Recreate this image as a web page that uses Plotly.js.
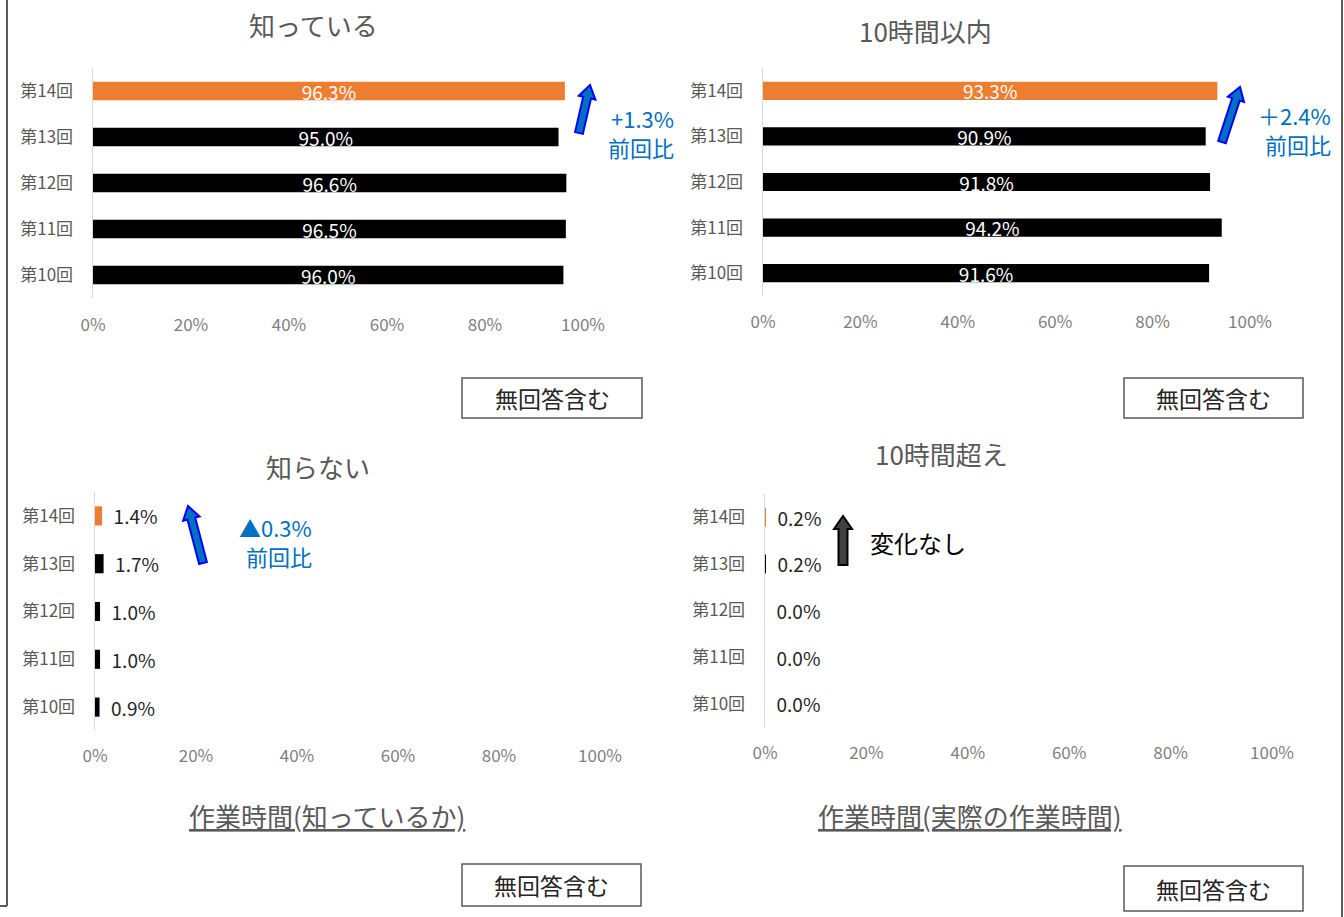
<!DOCTYPE html>
<html>
<head>
<meta charset="utf-8">
<script src="https://cdn.plot.ly/plotly-3.0.1.min.js"></script>
<style>html,body{margin:0;padding:0;background:#fff;}#chart{width:1344px;height:917px;}</style>
</head>
<body>
<div id="chart"></div>
<script>
// ---- data ----
const rounds = ['第10回', '第11回', '第12回', '第13回', '第14回'];
const knowYes = [96.0, 96.5, 96.6, 95.0, 96.3];      // 知っている
const knowNo = [0.9, 1.0, 1.0, 1.7, 1.4];            // 知らない
const within10h = [91.6, 94.2, 91.8, 90.9, 93.3];    // 10時間以内
const over10h = [0.0, 0.0, 0.0, 0.2, 0.2];           // 10時間超え
const panelTitles = ['知っている', '10時間以内', '知らない', '10時間超え'];
const tickValues = [0, 20, 40, 60, 80, 100];
const tickLabels = ['0%', '20%', '40%', '60%', '80%', '100%'];
const changeLabels = ['+1.3%', '＋2.4%', '▲0.3%', '変化なし'];
const compareLabel = '前回比';
const sectionLabels = ['作業時間(知っているか)', '作業時間(実際の作業時間)'];
const noteLabel = '無回答含む';

// ---- style ----
const W = 1344, H = 917;
const FONT = '"Noto Sans CJK JP", "Noto Sans", sans-serif';
const ORANGE = '#ED7D31', BLACK = '#000000', BLUE_TXT = '#0070C0';
const barColors = rounds.map((r, i) => i === rounds.length - 1 ? ORANGE : BLACK);
const px = x => x / W;
const py = y => 1 - y / H;

function xaxisCfg(x0, x1, anchor, tl) {
  return {
    domain: [px(x0), px(x1)], range: [0, 100], anchor: anchor,
    tickmode: 'array', tickvals: tickValues, ticktext: tickLabels, showgrid: false, zeroline: false,
    showline: false, ticks: 'outside', ticklen: tl, tickcolor: 'rgba(0,0,0,0)',
    tickfont: {family: FONT, size: 17, color: '#7f7f7f'}, fixedrange: true
  };
}
function yaxisCfg(y0, y1, anchor) {
  return {
    domain: [py(y1), py(y0)], anchor: anchor, type: 'category',
    categoryorder: 'array', categoryarray: rounds,
    showgrid: false, zeroline: false, showline: true, linecolor: '#d9d9d9', linewidth: 1.5,
    ticks: 'outside', ticklen: 15, tickcolor: 'rgba(0,0,0,0)',
    tickfont: {family: FONT, size: 17, color: '#595959'}, fixedrange: true
  };
}

function insideBar(vals, xa, ya) {
  return {
    type: 'bar', orientation: 'h', x: vals, y: rounds, xaxis: xa, yaxis: ya,
    marker: {color: barColors},
    text: vals.map(v => v.toFixed(1) + '%'), textposition: 'inside',
    insidetextanchor: 'middle', constraintext: 'none',
    textfont: {family: FONT, size: 19, color: '#ffffff'}, hoverinfo: 'skip'
  };
}
function outsideBar(vals, xa, ya) {
  return {
    type: 'bar', orientation: 'h', x: vals, y: rounds, xaxis: xa, yaxis: ya,
    marker: {color: barColors},
    text: vals.map(v => '\u00a0\u00a0' + v.toFixed(1) + '%'), textposition: 'outside',
    constraintext: 'none', cliponaxis: false,
    textfont: {family: FONT, size: 19, color: '#262626'}, hoverinfo: 'skip'
  };
}

const data = [
  insideBar(knowYes, 'x', 'y'),
  insideBar(within10h, 'x2', 'y2'),
  outsideBar(knowNo, 'x3', 'y3'),
  outsideBar(over10h, 'x4', 'y4')
];

// block arrow path (pixel input -> paper coords)
function blockArrow(tx, ty, hx, hy, shaftW, headW, headL) {
  const dx = hx - tx, dy = hy - ty, len = Math.hypot(dx, dy);
  const ux = dx / len, uy = dy / len, nx = -uy, ny = ux;
  const nkx = hx - ux * headL, nky = hy - uy * headL;
  const pts = [
    [tx + nx * shaftW / 2, ty + ny * shaftW / 2],
    [nkx + nx * shaftW / 2, nky + ny * shaftW / 2],
    [nkx + nx * headW / 2, nky + ny * headW / 2],
    [hx, hy],
    [nkx - nx * headW / 2, nky - ny * headW / 2],
    [nkx - nx * shaftW / 2, nky - ny * shaftW / 2],
    [tx - nx * shaftW / 2, ty - ny * shaftW / 2]
  ];
  return 'M' + pts.map(p => px(p[0]).toFixed(5) + ',' + py(p[1]).toFixed(5)).join(' L') + ' Z';
}

const shapes = [
  // page borders
  {type: 'line', xref: 'paper', yref: 'paper', x0: px(7), x1: px(7), y0: py(0), y1: py(906), line: {color: '#595959', width: 2}},
  {type: 'line', xref: 'paper', yref: 'paper', x0: px(0), x1: px(7), y0: py(906), y1: py(906), line: {color: '#595959', width: 2}},
  {type: 'line', xref: 'paper', yref: 'paper', x0: px(1342), x1: px(1342), y0: py(0), y1: py(917), line: {color: '#595959', width: 2}},
  // arrows
  {type: 'path', xref: 'paper', yref: 'paper', path: blockArrow(579, 133, 590, 85, 8, 17, 13), fillcolor: '#0070C0', line: {color: '#0000FF', width: 2}},
  {type: 'path', xref: 'paper', yref: 'paper', path: blockArrow(1222, 142, 1240, 87, 8, 17, 13), fillcolor: '#0070C0', line: {color: '#0000FF', width: 2}},
  {type: 'path', xref: 'paper', yref: 'paper', path: blockArrow(203, 563, 188, 506, 8, 17, 13), fillcolor: '#0070C0', line: {color: '#0000FF', width: 2}},
  {type: 'path', xref: 'paper', yref: 'paper', path: blockArrow(843, 565, 843, 516, 9, 18, 13), fillcolor: '#404040', line: {color: '#000000', width: 2}}
];
// note boxes
const boxes = [[462, 378, 642, 418], [1124, 378, 1303, 418], [462, 864, 641, 906], [1124, 866, 1303, 911]];
boxes.forEach(b => {
  shapes.push({type: 'rect', xref: 'paper', yref: 'paper', x0: px(b[0]), x1: px(b[2]), y0: py(b[3]), y1: py(b[1]),
    line: {color: '#595959', width: 1.5}, fillcolor: 'rgba(0,0,0,0)'});
});

function ann(text, x, y, size, color, xanchor) {
  return {text: text, xref: 'paper', yref: 'paper', x: px(x), y: py(y), xanchor: xanchor || 'center', yanchor: 'middle',
    borderpad: 0, showarrow: false, font: {family: FONT, size: size, color: color}};
}
const annotations = [
  ann(panelTitles[0], 313, 25, 26, '#595959'),
  ann(panelTitles[1], 925, 30, 26, '#595959'),
  ann(panelTitles[2], 318, 466, 26, '#595959'),
  ann(panelTitles[3], 941, 453, 26, '#595959'),
  ann(changeLabels[0], 675, 118, 22, BLUE_TXT, 'right'),
  ann(compareLabel, 675, 147, 22, BLUE_TXT, 'right'),
  ann(changeLabels[1], 1332, 115, 22, BLUE_TXT, 'right'),
  ann(compareLabel, 1332, 144, 22, BLUE_TXT, 'right'),
  ann(changeLabels[2], 313, 527, 22, BLUE_TXT, 'right'),
  ann(compareLabel, 313, 556, 22, BLUE_TXT, 'right'),
  ann(changeLabels[3], 918, 542, 24, '#000000'),
  ann('<u>' + sectionLabels[0] + '</u>', 327, 815, 26, '#595959'),
  ann('<u>' + sectionLabels[1] + '</u>', 970, 815, 26, '#595959')
];
boxes.forEach(b => annotations.push(ann(noteLabel, (b[0] + b[2]) / 2, (b[1] + b[3]) / 2, 23, '#262626')));

const layout = {
  width: W, height: H, margin: {l: 0, r: 0, t: 0, b: 0},
  paper_bgcolor: '#ffffff', plot_bgcolor: '#ffffff',
  showlegend: false, bargap: 0.6,
  font: {family: FONT},
  xaxis: xaxisCfg(93, 583, 'y', 12),   yaxis: yaxisCfg(68, 298, 'x'),
  xaxis2: xaxisCfg(763, 1250, 'y2', 11), yaxis2: yaxisCfg(68, 296, 'x2'),
  xaxis3: xaxisCfg(95, 600, 'y3', 10),  yaxis3: yaxisCfg(492, 731, 'x3'),
  xaxis4: xaxisCfg(765, 1272, 'y4', 11), yaxis4: yaxisCfg(494, 727, 'x4'),
  shapes: shapes, annotations: annotations
};

Plotly.newPlot('chart', data, layout, {displayModeBar: false, staticPlot: true});
</script>
</body>
</html>
